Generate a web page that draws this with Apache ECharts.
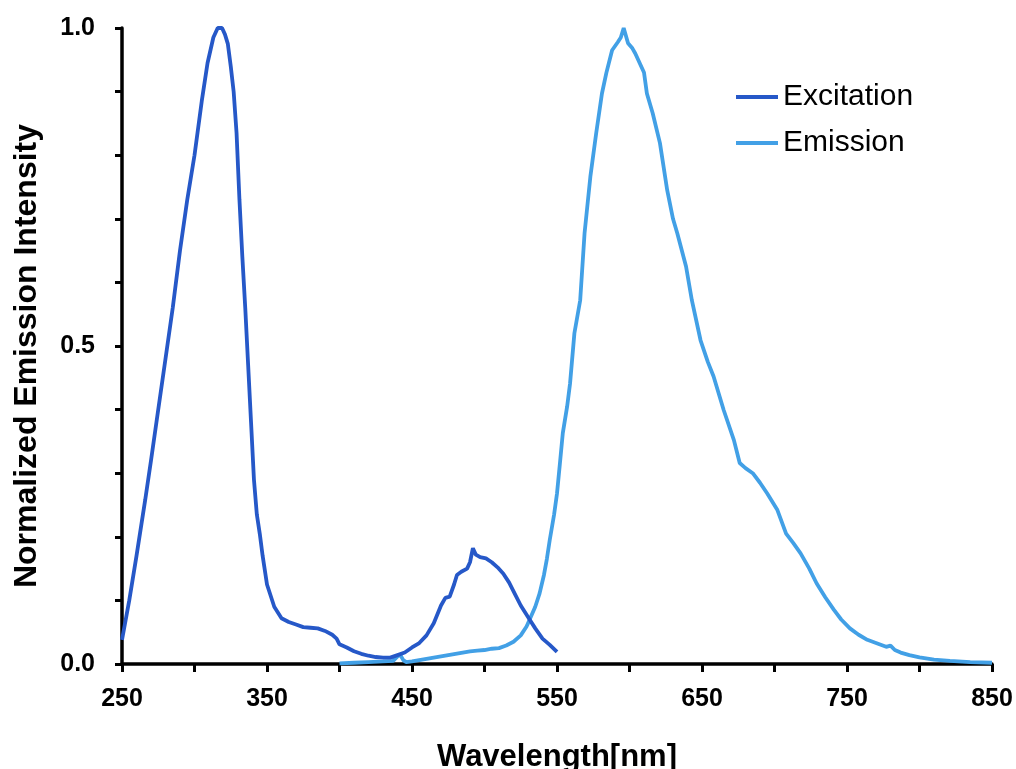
<!DOCTYPE html>
<html>
<head>
<meta charset="utf-8">
<script src="https://cdn.jsdelivr.net/npm/echarts@6/dist/echarts.min.js"></script>
<style>
html,body{margin:0;padding:0;background:#fff;}
#chart{width:1016px;height:769px;}
</style>
</head>
<body>
<div id="chart"></div>
<script>
const seriesNames = ['Excitation', 'Emission'];
const xTicks = [250, 350, 450, 550, 650, 750, 850];
const yTicks = [0.0, 0.5, 1.0];

const excitationWl = [250,255,260,266,270,275,280,285,290,295,300,305,309,313,316,319,321,323,325,327,329,331,333,335,337,339,341,343,345,347,350,355,360,365,370,375,380,385,390,395,398,400,405,410,415,420,425,430,435,440,445,450,455,460,465,470,473,476,479,481,484,488,490,492,494,497,501,505,509,513,517,521,525,530,535,540,545,550];
const excitationVal = [0.038,0.10,0.17,0.258,0.32,0.40,0.48,0.56,0.65,0.73,0.80,0.885,0.945,0.985,1.0,1.0,0.99,0.975,0.94,0.90,0.835,0.73,0.64,0.56,0.47,0.38,0.29,0.235,0.205,0.17,0.125,0.09,0.072,0.066,0.062,0.058,0.057,0.056,0.052,0.046,0.040,0.031,0.026,0.020,0.016,0.013,0.011,0.010,0.010,0.014,0.018,0.026,0.033,0.045,0.064,0.092,0.104,0.106,0.125,0.140,0.145,0.150,0.160,0.182,0.172,0.168,0.166,0.160,0.152,0.142,0.128,0.110,0.092,0.074,0.056,0.040,0.030,0.019];

const emissionWl = [400,410,420,430,437,440,442,444,446,450,455,460,465,470,475,480,485,490,495,500,505,510,515,520,525,529,531,535,538,541,543,545,548,550,552,554,557,559,562,566,569,573,577,581,584,588,592,594,596,599,602,604,607,610,612,616,621,626,630,633,639,643,649,654,658,665,672,676,680,685,690,695,702,708,713,718,724,729,735,741,746,752,758,764,770,777,780,783,787,793,800,810,821,835,850];
const emissionVal = [0.001,0.002,0.003,0.004,0.005,0.012,0.014,0.006,0.003,0.004,0.006,0.008,0.010,0.012,0.014,0.016,0.018,0.020,0.021,0.022,0.024,0.025,0.029,0.035,0.045,0.059,0.069,0.090,0.111,0.140,0.165,0.195,0.235,0.268,0.315,0.363,0.405,0.441,0.52,0.572,0.677,0.766,0.834,0.897,0.929,0.965,0.978,0.985,1.0,0.976,0.968,0.96,0.945,0.930,0.897,0.866,0.819,0.745,0.70,0.677,0.625,0.572,0.509,0.475,0.452,0.399,0.352,0.316,0.308,0.300,0.285,0.268,0.242,0.205,0.190,0.174,0.150,0.127,0.105,0.085,0.070,0.056,0.046,0.038,0.033,0.027,0.029,0.022,0.018,0.014,0.0105,0.007,0.005,0.003,0.002];

const zip = (a, b) => a.map((x, i) => [x, b[i]]);
const FONT = '"Liberation Sans", Arial, Helvetica, sans-serif';

const chart = echarts.init(document.getElementById('chart'), null, {renderer: 'canvas'});
chart.setOption({
  animation: false,
  backgroundColor: '#ffffff',
  grid: {left: 122, right: 24, top: 28, bottom: 105, containLabel: false, outerBoundsMode: 'none'},
  legend: {
    orient: 'vertical',
    left: 731,
    top: 77,
    itemWidth: 42,
    itemHeight: 4,
    itemGap: 16,
    icon: 'rect',
    data: seriesNames,
    textStyle: {fontFamily: FONT, fontSize: 30, color: '#000'}
  },
  xAxis: {
    type: 'value',
    min: 250, max: 850, interval: 50,
    name: 'Wavelength[nm]',
    nameLocation: 'middle',
    nameGap: 78,
    nameTextStyle: {fontFamily: FONT, fontSize: 31, fontWeight: 'bold', color: '#000'},
    axisLine: {show: true, onZero: false, lineStyle: {color: '#000', width: 3.5}},
    axisTick: {show: true, length: 8, lineStyle: {color: '#000', width: 3}},
    splitLine: {show: false},
    axisLabel: {
      margin: 23,
      fontFamily: FONT, fontSize: 25, fontWeight: 'bold', color: '#000',
      formatter: v => xTicks.includes(v) ? String(v) : ''
    }
  },
  yAxis: {
    type: 'value',
    min: 0, max: 1, interval: 0.1,
    name: 'Normalized Emission Intensity',
    nameLocation: 'middle',
    nameGap: 79,
    nameTextStyle: {fontFamily: FONT, fontSize: 32, fontWeight: 'bold', color: '#000', padding: [0, 20, 0, 0]},
    axisLine: {show: true, lineStyle: {color: '#000', width: 3.5}},
    axisTick: {show: true, length: 7, lineStyle: {color: '#000', width: 3}},
    splitLine: {show: false},
    axisLabel: {
      margin: 27,
      fontFamily: FONT, fontSize: 25, fontWeight: 'bold', color: '#000',
      formatter: v => yTicks.some(t => Math.abs(t - v) < 1e-6) ? v.toFixed(1) : ''
    }
  },
  series: [
    {
      name: seriesNames[0], type: 'line', showSymbol: false, symbol: 'none',
      color: '#2658c8',
      lineStyle: {width: 3.8, color: '#2658c8'},
      data: zip(excitationWl, excitationVal),
      z: 3
    },
    {
      name: seriesNames[1], type: 'line', showSymbol: false, symbol: 'none',
      color: '#42a0e6',
      lineStyle: {width: 3.8, color: '#42a0e6'},
      data: zip(emissionWl, emissionVal),
      z: 2
    }
  ]
});
</script>
</body>
</html>
